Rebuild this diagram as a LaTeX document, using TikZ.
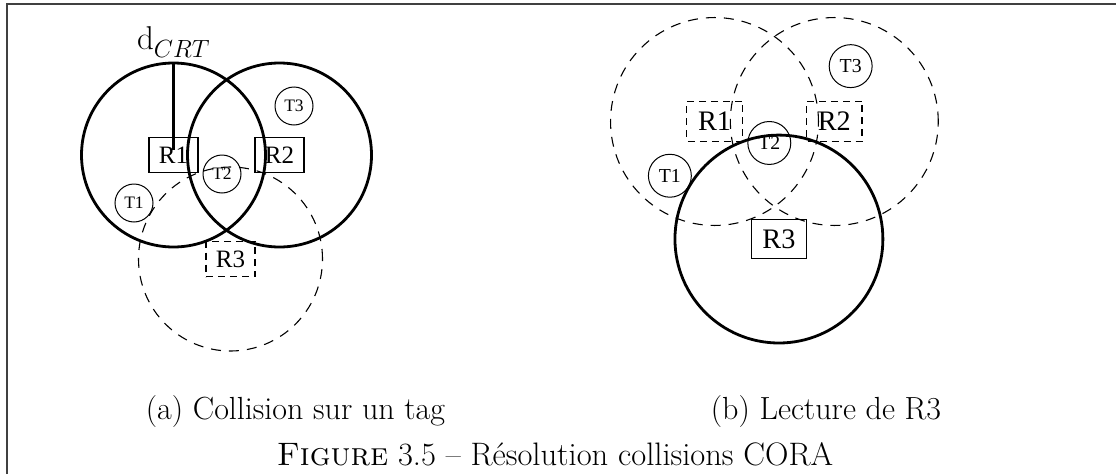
\documentclass[tikz,border=0pt]{standalone}
\usepackage{fontspec}
\usetikzlibrary{positioning}
\newfontfamily\diagfont{Liberation Serif}

\tikzset{
	readrange/.style={line width=2.8pt},
	idlerange/.style={line width=1.1pt, dash pattern=on 10pt off 8pt},
	reader/.style={draw, line width=1.1pt, minimum width=49pt, minimum height=35pt, inner sep=0pt,
		font=\diagfont\fontsize{25}{28}\selectfont},
	idlereader/.style={reader, dash pattern=on 7pt off 5pt},
	tag circle/.style={draw, circle, line width=1pt, minimum size=38pt, inner sep=0pt,
		font=\diagfont\fontsize{17.5}{20}\selectfont},
	subcap/.style={anchor=base, font=\fontsize{32}{37}\selectfont}
}

\begin{document}
\begin{tikzpicture}[x=1pt, y=-1pt]
	\useasboundingbox (0,0) rectangle (1116,474);
	\draw[line width=2pt, black!75] (7,474) -- (7,4) -- (1116,4);

	% (a) collision sur un tag
	\begin{scope}[shift={(173.5,155)}]
		\node[reader] (ra1) at (0,0) {R1};
		\node[reader] (ra2) at (106,0) {R2};
		\node[idlereader] (ra3) at (57,104) {R3};
		\node[tag circle] (ta1) at (-39.5,48) {T1};
		\node[tag circle] (ta2) at (48.5,19) {T2};
		\node[tag circle] (ta3) at (120.5,-49) {T3};
		\draw[readrange] (ra1.center) circle (92pt);
		\draw[readrange] (ra2.center) circle (92pt);
		\draw[idlerange] (ra3.center) circle (92pt);
		\coordinate (dtop) at (0,-92);
		\coordinate (dbot) at (0,-5);
		\draw[readrange] (dbot) -- (dtop);
		\node[above=2pt of dtop, font=\fontsize{33}{36}\selectfont] (dcrt) {d$_{CRT}$};
	\end{scope}

	% (b) lecture de R3
	\begin{scope}[shift={(714.5,121.5)}, scale=1.13, transform shape]
		\node[idlereader] (rb1) at (0,0) {R1};
		\node[idlereader] (rb2) at (106,0) {R2};
		\node[reader] (rb3) at (57,104) {R3};
		\node[tag circle] (tb1) at (-39.5,48) {T1};
		\node[tag circle] (tb2) at (48.5,19) {T2};
		\node[tag circle] (tb3) at (120.5,-49) {T3};
		\draw[idlerange] (rb1.center) circle (92pt);
		\draw[idlerange] (rb2.center) circle (92pt);
		\draw[readrange] (rb3.center) circle (92pt);
	\end{scope}

	\node[subcap] (capa) at (295.5,419) {(a) Collision sur un tag};
	\node[subcap] (capb) at (826,419) {(b) Lecture de R3};
	\node[anchor=base, font=\fontsize{32.5}{37}\selectfont] (fig) at (555,465)
		{\textsc{Figure} 3.5 -- Résolution collisions CORA};
\end{tikzpicture}
\end{document}
